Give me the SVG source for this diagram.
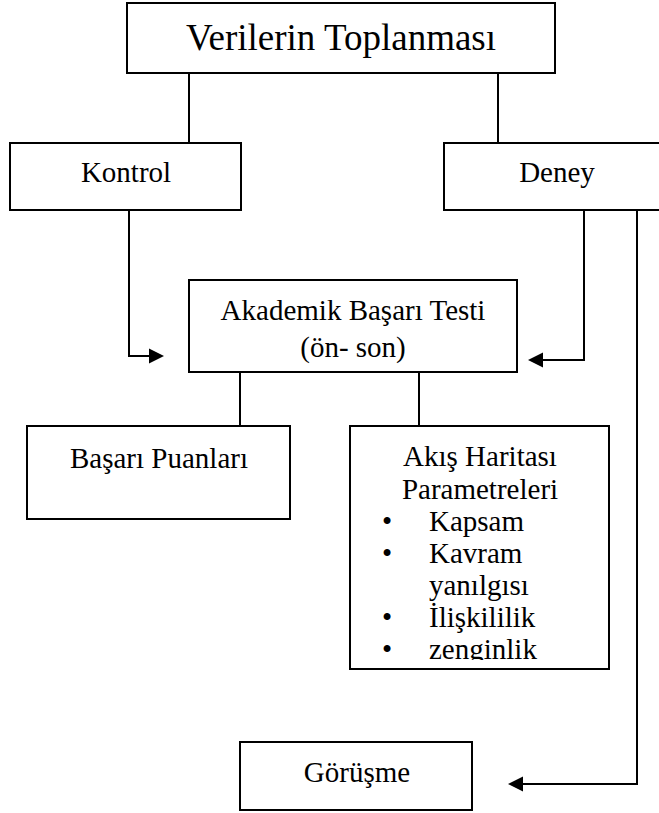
<svg xmlns="http://www.w3.org/2000/svg" width="659" height="813" viewBox="0 0 659 813">
  <defs>
    <style>
      .box { fill: #ffffff; stroke: #000000; stroke-width: 2; }
      .t { font-family: "Liberation Serif", "Times New Roman", serif; font-size: 29px; fill: #000000; }
      .big { font-size: 37px; }
      .c { text-anchor: middle; }
      .conn { fill: none; stroke: #000000; stroke-width: 2; }
      .ah { fill: #000000; stroke: none; }
    </style>
    <clipPath id="akisClip">
      <rect x="350" y="426" width="259" height="234"/>
    </clipPath>
  </defs>
  <rect x="0" y="0" width="659" height="813" fill="#ffffff"/>

  <g id="connectors">
    <line class="conn" x1="189" y1="73" x2="189" y2="143"/>
    <line class="conn" x1="498" y1="73" x2="498" y2="143"/>
    <polyline class="conn" points="129,210 129,356 150,356"/>
    <polygon class="ah" points="149,348.5 164,356 149,363.5"/>
    <polyline class="conn" points="584,207 584,360 542,360"/>
    <polygon class="ah" points="543,352.5 528,360 543,367.5"/>
    <polyline class="conn" points="637,207 637,784 522,784"/>
    <polygon class="ah" points="523,776.5 508,784 523,791.5"/>
    <line class="conn" x1="240" y1="372" x2="240" y2="426"/>
    <line class="conn" x1="419" y1="372" x2="419" y2="426"/>
  </g>

  <g id="verilerin">
    <rect class="box" x="127" y="3" width="428" height="70"/>
    <text class="t big c" x="341" y="50">Verilerin Toplanması</text>
  </g>

  <g id="kontrol">
    <rect class="box" x="10" y="143" width="231" height="67"/>
    <text class="t c" x="126" y="182">Kontrol</text>
  </g>

  <g id="deney">
    <rect class="box" x="444" y="143" width="230" height="67"/>
    <text class="t c" x="557" y="182">Deney</text>
  </g>

  <g id="akademik">
    <rect class="box" x="189" y="280" width="328" height="92"/>
    <text class="t c" x="353" y="320">Akademik Başarı Testi</text>
    <text class="t c" x="353" y="357">(ön- son)</text>
  </g>

  <g id="basari">
    <rect class="box" x="27" y="426" width="263" height="93"/>
    <text class="t c" x="159" y="468">Başarı Puanları</text>
  </g>

  <g id="akis">
    <rect class="box" x="350" y="426" width="259" height="243"/>
    <g clip-path="url(#akisClip)">
      <text class="t c" x="480" y="466">Akış Haritası</text>
      <text class="t c" x="480" y="499">Parametreleri</text>
      <text class="t c" x="387" y="531">•</text>
      <text class="t" x="429" y="531">Kapsam</text>
      <text class="t c" x="387" y="563">•</text>
      <text class="t" x="429" y="563">Kavram</text>
      <text class="t" x="429" y="595">yanılgısı</text>
      <text class="t c" x="387" y="627">•</text>
      <text class="t" x="429" y="627">İlişkililik</text>
      <text class="t c" x="387" y="659">•</text>
      <text class="t" x="429" y="659">zenginlik</text>
    </g>
  </g>

  <g id="gorusme">
    <rect class="box" x="240" y="742" width="232" height="68"/>
    <text class="t c" x="357" y="782">Görüşme</text>
  </g>
</svg>
